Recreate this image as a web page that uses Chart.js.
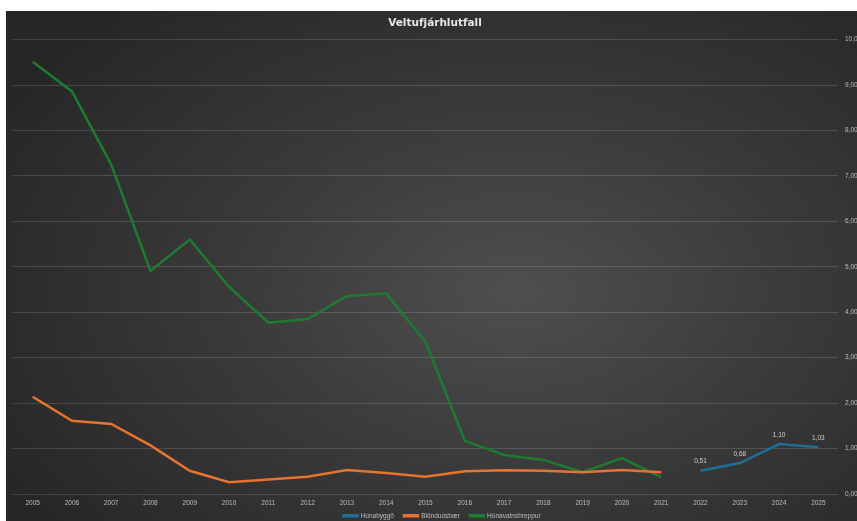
<!DOCTYPE html>
<html>
<head>
<meta charset="utf-8">
<script src="https://cdn.jsdelivr.net/npm/chart.js@4.4.1/dist/chart.umd.min.js"></script>
<style>
  html, body { margin: 0; padding: 0; background: #ffffff; width: 857px; height: 521px; overflow: hidden; }
  #wrap {
    position: absolute; left: 6px; top: 11px; width: 851px; height: 510px;
    background: radial-gradient(ellipse 70% 75% at 60% 55%, #4f4f4f 0%, #3b3b3b 45%, #262626 100%);
  }
  canvas { display: block; }
</style>
</head>
<body>
<div id="wrap"><canvas id="c" width="851" height="510"></canvas></div>
<script>
const years = ['2005','2006','2007','2008','2009','2010','2011','2012','2013','2014','2015','2016','2017','2018','2019','2020','2021','2022','2023','2024','2025'];
const hunabyggd = [null,null,null,null,null,null,null,null,null,null,null,null,null,null,null,null,null,0.51,0.68,1.10,1.03];
const blonduosbaer = [2.14,1.61,1.54,1.07,0.51,0.26,0.32,0.38,0.53,0.46,0.38,0.50,0.52,0.51,0.48,0.53,0.48,null,null,null,null];
const hunavatnshreppur = [9.51,8.86,7.25,4.91,5.60,4.56,3.77,3.85,4.36,4.41,3.35,1.17,0.86,0.75,0.48,0.79,0.37,null,null,null,null];
const titleText = 'Veltufjárhlutfall';
const fmt = v => v.toFixed(2).replace('.', ',');

const labelPlugin = {
  id: 'pointLabels',
  afterLayout(chart) {
    // let x tick labels extend into the legend band, and centre legend on plot
    const xs = chart.scales.x;
    xs.bottom = chart.height;
    const lg = chart.legend;
    if (lg) { lg.left += 7; lg.right += 7; }
  },
  afterDatasetsDraw(chart) {
    const ctx = chart.ctx;
    const meta = chart.getDatasetMeta(0);
    const ds = chart.data.datasets[0];
    ctx.save();
    ctx.font = '6.5px "Liberation Sans", Arial, sans-serif';
    ctx.fillStyle = '#cfcfcf';
    ctx.textAlign = 'center';
    ctx.textBaseline = 'bottom';
    meta.data.forEach((pt, i) => {
      const v = ds.data[i];
      if (v === null || v === undefined) return;
      ctx.fillText(fmt(v), pt.x, pt.y - 6);
    });
    ctx.restore();
  }
};

new Chart(document.getElementById('c'), {
  type: 'line',
  data: {
    labels: years,
    datasets: [
      { label: 'Húnabyggð', data: hunabyggd, borderColor: '#1f6e96', backgroundColor: '#1f6e96', borderWidth: 2.5, pointRadius: 0, tension: 0 },
      { label: 'Blönduósbær', data: blonduosbaer, borderColor: '#e8722f', backgroundColor: '#e8722f', borderWidth: 2.5, pointRadius: 0, tension: 0 },
      { label: 'Húnavatnshreppur', data: hunavatnshreppur, borderColor: '#1e7a30', backgroundColor: '#1e7a30', borderWidth: 2.5, pointRadius: 0, tension: 0 }
    ]
  },
  options: {
    responsive: false,
    animation: false,
    spanGaps: false,
    layout: { padding: { left: 7, right: 0, top: 0, bottom: -8 } },
    plugins: {
      title: {
        display: true, text: titleText, color: '#e6e6e6',
        font: { size: 10.5, weight: 'bold', family: '"DejaVu Sans", sans-serif' },
        padding: { top: 6, bottom: 10 }
      },
      legend: {
        position: 'bottom',
        labels: {
          color: '#bdbdbd',
          font: { size: 6.5, family: '"Liberation Sans", Arial, sans-serif' },
          boxWidth: 14, boxHeight: 1, padding: 10
        }
      },
      tooltip: { enabled: false }
    },
    scales: {
      x: {
        offset: true,
        grid: { display: false, drawTicks: false, tickLength: 0 },
        border: { display: false },
        ticks: { color: '#bdbdbd', font: { size: 6.5, family: '"Liberation Sans", Arial, sans-serif' }, padding: 5.5, maxRotation: 0, autoSkip: false },
        afterFit(s) { s.height = 8.5; }
      },
      y: {
        position: 'right',
        min: 0, max: 10,
        grid: { color: 'rgba(255,255,255,0.14)', drawTicks: false, lineWidth: 1 },
        border: { display: false },
        ticks: { stepSize: 1, color: '#bdbdbd', font: { size: 6.5, family: '"Liberation Sans", Arial, sans-serif' }, padding: 7, callback: v => fmt(v) },
        afterFit(s) { s.width = 19; }
      }
    }
  },
  plugins: [labelPlugin]
});
</script>
</body>
</html>
